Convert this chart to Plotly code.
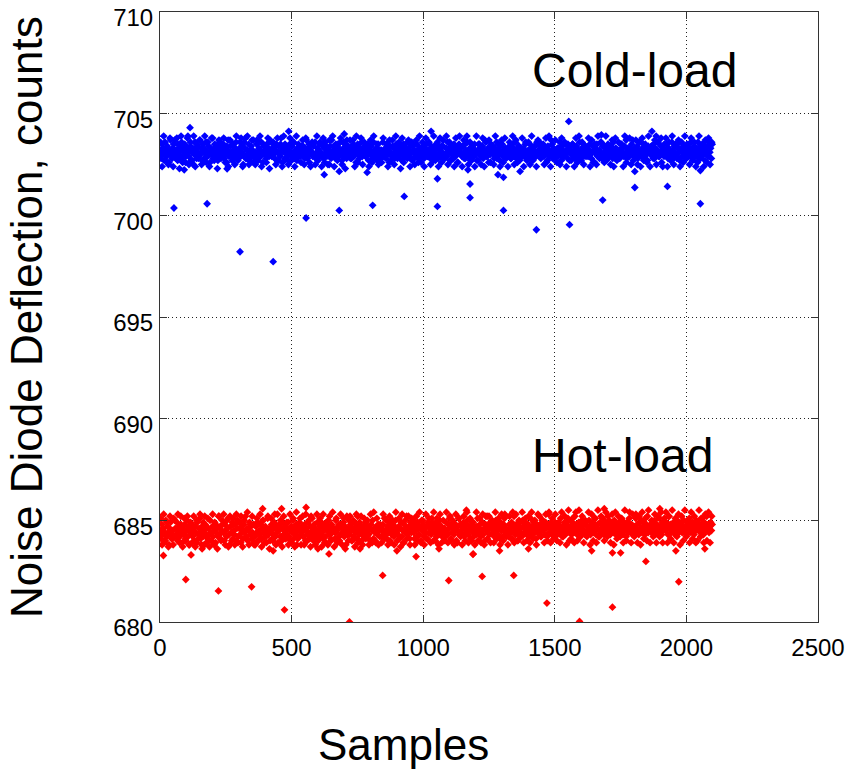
import plotly.graph_objects as go

# ---------------- data ----------------
samples = list(range(1, 2101, 3))   # sample index of the dense band (set 1)
samples2 = list(range(2, 2101, 6))  # sample index of the dense band (set 2)

cold_band = [
703.2,702.8,703.5,703.0,703.3,702.7,703.6,703.1,702.9,703.4,703.2,702.6,703.0,703.7,703.1,702.8,703.3,703.5,702.9,703.2,
703.0,703.8,702.7,703.3,703.1,702.9,703.4,703.6,702.8,703.2,703.0,703.5,702.6,703.1,703.3,703.9,702.9,703.2,703.4,702.7,
703.1,703.3,702.5,703.0,703.6,703.2,702.8,703.4,703.1,702.9,703.7,703.0,703.3,702.7,703.5,703.1,702.8,703.2,703.6,703.0,
702.9,703.4,703.1,702.6,703.3,703.8,703.0,702.8,703.2,703.5,702.9,703.1,703.4,702.7,703.2,703.6,703.0,702.8,703.3,703.1,
703.5,702.8,703.0,703.3,702.6,703.2,703.7,702.9,703.1,703.4,703.0,702.7,703.5,703.2,702.9,703.3,703.6,703.1,702.8,703.0,
703.2,703.6,702.9,703.1,703.4,702.5,703.0,703.3,703.8,702.8,703.2,703.0,703.5,702.7,703.1,703.4,702.9,703.2,703.7,703.0,
702.8,703.1,703.5,703.0,702.7,703.3,703.2,702.9,703.6,703.1,702.6,703.4,703.0,703.2,702.8,703.5,703.1,703.3,702.9,703.7,
703.1,702.9,703.3,703.6,703.0,702.8,703.2,703.5,702.7,703.1,703.4,703.0,702.9,703.8,703.2,702.6,703.3,703.1,703.5,702.8,
703.3,703.0,702.7,703.2,703.5,703.1,702.9,703.4,703.0,703.6,702.8,703.2,703.1,702.7,703.3,703.5,703.0,702.9,703.2,703.4,
703.0,703.4,703.2,702.8,703.1,703.7,702.9,703.3,703.0,702.6,703.2,703.5,703.1,702.9,703.4,703.0,703.6,702.8,703.1,703.3,
702.7,703.2,703.5,703.1,702.9,703.0,703.4,702.8,703.3,703.6,703.1,702.9,703.2,703.0,702.5,703.4,703.1,703.7,702.9,703.2,
703.4,703.1,702.8,703.3,703.0,703.5,702.9,703.2,703.6,703.0,702.7,703.1,703.3,702.9,703.5,703.2,702.8,703.0,703.4,703.1,
703.1,702.8,703.3,703.0,703.7,702.9,703.2,703.4,702.6,703.1,703.5,703.0,702.8,703.3,703.1,703.6,702.9,703.2,703.0,703.4,
702.9,703.3,703.1,703.5,702.7,703.2,703.0,703.4,703.1,702.8,703.6,703.2,702.9,703.1,703.3,702.7,703.5,703.0,703.2,702.8,
703.2,703.0,703.6,702.9,703.1,703.3,702.8,703.5,703.0,703.2,702.6,703.4,703.1,702.9,703.7,703.0,703.3,702.8,703.1,703.5,
703.0,703.3,702.9,703.1,703.4,703.0,702.7,703.2,703.5,702.9,703.1,703.3,703.0,702.8,703.6,703.2,702.9,703.4,703.1,702.7,
703.4,702.8,703.2,703.0,702.9,703.5,703.1,702.6,703.3,703.2,702.9,703.0,703.6,703.1,702.8,703.3,703.0,703.5,702.9,703.2,
703.1,703.5,702.8,703.3,703.0,703.2,702.7,703.4,703.1,702.9,703.3,703.6,702.8,703.0,703.2,702.9,703.4,703.1,703.7,702.8,
702.8,703.0,703.3,702.9,703.6,703.1,703.2,702.7,703.4,703.0,703.1,702.8,703.5,703.2,702.9,703.0,703.3,702.6,703.1,703.4,
703.3,703.1,702.9,703.4,703.0,702.8,703.5,703.2,703.0,703.6,702.9,703.1,703.3,702.7,703.2,703.4,703.0,702.9,703.5,703.1,
703.0,702.7,703.2,703.5,703.1,703.3,702.9,703.0,703.4,702.8,703.2,703.7,703.0,702.9,703.1,703.3,702.6,703.2,703.0,703.5,
703.2,703.4,703.0,702.8,703.3,703.1,703.6,702.9,703.2,703.0,702.7,703.4,703.1,703.5,702.9,703.2,703.0,703.3,702.8,703.1,
702.9,703.1,703.4,703.2,702.8,703.0,703.5,703.3,702.9,703.1,703.6,702.8,703.2,703.0,703.4,702.7,703.1,703.3,703.0,702.9,
703.3,702.9,703.1,703.6,703.0,702.8,703.2,703.1,703.5,702.9,703.0,703.3,702.7,703.2,703.4,703.0,702.9,703.6,703.1,703.2,
703.1,703.4,702.8,703.0,703.2,703.5,702.9,703.1,703.3,702.6,703.0,703.4,703.2,702.9,703.1,703.7,703.0,702.8,703.3,703.0,
702.8,703.2,703.0,703.3,702.9,703.1,703.6,703.0,702.7,703.4,703.2,703.1,702.9,703.5,703.0,703.2,702.8,703.3,703.1,703.4,
703.2,703.0,703.5,702.9,703.1,702.8,703.3,703.4,703.0,703.2,702.9,703.6,703.1,702.7,703.3,703.0,703.5,703.1,702.9,703.2,
703.0,703.3,702.9,703.2,703.5,703.0,702.8,703.1,703.4,703.2,702.6,703.3,703.0,703.5,702.9,703.1,703.2,703.0,703.6,702.8,
703.4,702.9,703.1,703.0,703.3,702.7,703.2,703.5,703.1,702.9,703.0,703.4,703.2,702.8,703.6,703.1,703.0,703.3,702.9,703.2,
703.1,703.2,702.8,703.5,703.0,703.3,703.1,702.9,703.4,703.0,703.7,702.8,703.2,703.1,702.9,703.3,703.0,703.5,703.2,702.7,
702.9,703.3,703.1,703.0,703.4,702.8,703.2,703.6,703.0,703.1,702.9,703.3,703.5,702.8,703.1,703.2,703.0,702.7,703.4,703.1,
703.2,703.0,703.4,702.9,703.1,703.5,702.8,703.3,703.0,703.2,703.6,702.9,703.1,703.0,703.4,702.6,703.2,703.3,702.9,703.1,
703.0,703.5,703.2,702.8,703.3,703.1,703.0,702.9,703.6,703.2,702.8,703.4,703.1,703.0,702.9,703.5,703.3,703.1,702.7,703.2,
703.3,702.9,703.1,703.4,703.0,703.2,702.8,703.5,703.1,702.9,703.3,703.0,703.6,703.2,702.8,703.1,703.4,703.0,702.9,703.3,
703.1,703.6,702.8,703.2,703.4,703.0,702.9,703.3,703.5,703.1,702.7,703.2,703.0,703.4,702.9,703.6,703.1,703.3,702.8,703.5,
]

cold_band2 = [
703.6,702.4,703.9,702.7,703.3,702.5,703.8,703.0,702.4,703.7,702.8,703.5,702.3,703.9,702.6,703.4,702.9,703.8,702.5,703.6,
702.7,703.9,702.4,703.5,702.8,703.7,702.5,703.3,703.9,702.6,703.6,702.4,703.0,703.8,702.7,703.4,702.3,703.7,702.9,703.5,
703.8,702.6,703.4,702.4,703.7,702.9,703.5,702.5,703.9,702.7,703.3,703.8,702.4,703.6,702.8,703.9,702.5,703.2,703.7,702.6,
702.5,703.7,702.8,703.9,702.4,703.5,703.0,702.6,703.8,702.3,703.6,702.9,703.4,702.5,703.8,702.7,703.5,702.4,703.9,702.8,
703.4,702.5,703.8,702.7,703.6,702.4,703.9,702.9,703.3,702.6,703.7,702.5,703.8,702.8,703.5,702.4,703.6,703.0,702.5,703.9,
702.9,703.6,702.4,703.8,702.6,703.4,702.5,703.7,702.8,703.9,702.4,703.5,702.7,703.3,703.8,702.5,703.6,702.3,703.7,702.9,
703.7,702.8,703.5,702.4,703.9,702.6,703.3,703.8,702.5,703.6,702.9,703.4,702.4,703.7,702.6,703.9,702.8,703.5,702.5,703.2,
702.6,703.8,702.9,703.5,702.4,703.7,702.7,703.4,702.5,703.9,702.8,703.6,702.3,703.8,702.6,703.5,702.9,703.7,702.4,703.6,
703.5,702.5,703.7,702.8,703.9,702.6,703.4,702.4,703.8,702.9,703.6,702.5,703.3,703.9,702.7,703.5,702.4,703.8,702.6,703.4,
702.8,703.9,702.5,703.6,702.7,703.4,702.4,703.8,702.6,703.5,703.0,702.4,703.7,702.8,703.9,702.5,703.6,702.7,703.3,702.4,
703.9,702.7,703.5,702.5,703.8,702.4,703.6,702.9,703.7,702.6,703.4,702.5,703.9,702.8,703.5,702.4,703.7,702.6,703.8,702.9,
702.4,703.6,702.8,703.9,702.5,703.7,702.6,703.4,702.9,703.8,702.4,703.5,702.7,703.6,702.5,703.9,702.8,703.4,702.4,703.7,
703.6,702.9,703.4,702.5,703.8,702.7,703.9,702.4,703.5,702.8,703.7,702.6,703.3,702.5,703.8,702.9,703.6,702.4,703.5,702.7,
702.7,703.5,702.4,703.8,702.6,703.9,702.8,703.6,702.5,703.4,702.9,703.8,702.4,703.7,702.6,703.5,702.5,703.9,702.8,703.6,
703.5,702.6,703.9,702.8,703.4,702.5,703.7,702.4,703.8,702.7,703.6,702.9,703.5,702.4,703.9,702.6,703.3,703.8,702.5,703.7,
702.9,703.7,702.5,703.6,702.4,703.8,702.7,703.5,702.6,703.9,702.4,703.4,702.8,703.7,702.5,703.6,702.9,703.8,702.4,703.5,
703.8,702.4,703.6,702.7,703.9,702.5,703.5,702.8,703.7,702.4,703.6,702.6,703.9,702.8,703.4,702.5,703.8,702.7,703.6,702.4,
702.6,703.9,702.8,703.5,702.4,703.7,702.6,703.8,702.5,703.6,
]

hot_band = [
684.5,684.1,684.8,684.3,684.6,683.9,684.4,685.0,684.2,684.7,684.4,683.8,684.6,684.9,684.3,684.1,684.5,685.1,684.2,684.6,
684.3,684.9,684.0,684.5,684.7,684.2,685.2,684.4,683.9,684.6,684.3,684.8,684.1,684.5,685.0,684.2,684.7,683.8,684.4,684.6,
684.8,684.2,684.5,684.0,684.7,684.4,683.9,684.9,684.3,684.6,685.1,684.1,684.4,684.7,684.2,684.5,683.8,684.8,684.3,684.6,
684.1,684.6,684.3,685.0,684.4,684.0,684.7,684.2,684.5,684.9,683.9,684.4,684.6,684.2,685.2,684.3,684.7,684.0,684.5,684.8,
684.4,684.0,684.8,684.5,684.2,684.6,685.1,684.3,683.8,684.7,684.4,684.9,684.1,684.5,684.3,684.8,684.0,684.6,685.0,684.2,
684.6,684.3,683.9,684.7,684.5,684.1,684.8,684.4,685.2,684.2,684.6,684.0,684.5,684.9,684.3,684.7,684.1,684.4,684.8,683.8,
684.2,684.7,684.4,684.9,684.0,684.5,684.3,684.8,684.1,684.6,685.0,684.4,683.9,684.7,684.2,684.5,685.1,684.3,684.6,684.0,
684.5,684.8,684.1,684.3,684.6,685.3,684.2,684.7,684.4,683.9,684.5,684.8,684.2,684.6,684.0,684.9,684.3,684.5,684.7,684.1,
684.3,684.6,684.9,684.2,684.5,684.0,684.7,684.4,685.0,684.1,684.6,684.3,684.8,683.8,684.5,684.7,684.2,685.1,684.4,684.6,
684.7,684.2,684.5,684.8,684.0,684.6,684.3,684.9,684.4,684.1,684.7,685.2,684.3,684.5,684.0,684.8,684.6,684.2,684.4,684.9,
684.0,684.5,684.7,684.3,684.9,684.4,684.1,684.6,684.8,684.2,683.9,684.5,684.7,685.0,684.3,684.6,684.1,684.8,684.4,684.5,
684.6,684.1,684.4,685.1,684.5,684.7,684.2,684.0,684.8,684.3,684.6,684.4,684.9,684.2,684.7,683.8,684.5,684.3,684.6,685.0,
684.3,684.8,684.5,684.0,684.6,684.2,684.9,684.4,684.7,684.1,685.2,684.5,684.3,684.8,684.6,684.0,684.4,684.7,684.2,684.5,
684.9,684.4,684.2,684.7,684.3,684.6,684.0,684.8,684.5,685.0,684.1,684.6,684.4,683.9,684.7,684.3,684.8,684.5,684.2,684.6,
684.2,684.6,684.8,684.4,685.1,684.3,684.5,684.1,684.7,684.4,684.9,684.0,684.6,684.3,684.8,684.5,684.2,684.7,685.0,684.4,
684.5,684.3,684.7,684.1,684.6,684.9,684.2,684.5,683.9,684.8,684.4,684.6,685.2,684.3,684.5,684.7,684.1,684.9,684.4,684.6,
684.7,684.4,684.1,684.8,684.5,684.2,684.9,684.6,684.3,684.7,684.0,685.0,684.5,684.8,684.2,684.6,684.4,684.1,684.7,684.9,
684.4,684.8,684.6,684.3,685.1,684.5,684.0,684.7,684.4,684.9,684.2,684.6,684.8,684.3,685.0,684.5,684.7,684.2,684.6,684.4,
684.6,684.2,684.9,684.5,684.3,684.8,684.6,685.2,684.1,684.7,684.4,684.9,684.3,684.6,684.8,684.0,684.5,684.7,685.1,684.3,
684.8,684.5,684.3,684.7,684.9,684.2,684.6,684.4,684.8,685.0,684.3,684.5,684.7,684.1,684.6,684.9,684.4,684.2,684.7,684.5,
684.3,684.7,685.1,684.4,684.6,684.8,684.2,684.5,684.9,684.3,684.6,684.0,684.8,684.5,685.2,684.4,684.7,684.3,684.9,684.6,
684.6,684.9,684.4,684.2,684.7,685.0,684.5,684.8,684.3,684.6,684.1,684.9,684.5,684.7,684.2,684.8,685.1,684.4,684.6,684.3,
684.5,684.2,684.8,684.6,684.4,684.9,684.1,684.7,685.2,684.5,684.3,684.8,684.6,684.0,684.7,684.4,684.9,684.6,684.2,685.0,
684.7,684.4,684.6,684.9,684.3,684.5,684.8,684.2,684.6,685.1,684.4,684.7,684.3,684.9,684.5,684.6,684.1,684.8,684.4,684.7,
684.4,684.8,684.2,684.6,685.0,684.5,684.7,684.3,684.9,684.6,684.2,684.8,685.3,684.4,684.6,684.9,684.3,684.7,684.5,684.2,
684.9,684.5,684.7,684.3,684.6,684.8,684.4,685.1,684.6,684.2,684.7,684.5,684.9,684.3,684.8,684.6,684.4,685.0,684.5,684.7,
684.6,684.3,684.9,684.7,684.4,685.2,684.6,684.8,684.3,684.5,684.9,684.2,684.7,684.6,685.0,684.4,684.8,684.5,684.3,684.9,
684.4,684.7,684.5,685.0,684.6,684.3,684.8,684.5,684.9,684.4,684.7,685.1,684.3,684.6,684.8,684.2,684.5,684.9,684.6,684.4,
684.8,684.5,684.3,684.7,684.9,684.6,684.4,685.2,684.5,684.8,684.3,684.6,684.9,684.7,684.4,685.0,684.6,684.3,684.8,684.5,
684.5,684.9,684.7,684.4,684.6,685.0,684.3,684.8,684.5,684.7,684.2,684.9,684.6,684.4,685.1,684.7,684.5,684.8,684.3,684.6,
684.7,684.4,685.1,684.6,684.8,684.5,684.3,684.9,684.6,685.0,684.4,684.7,684.5,684.9,684.3,684.8,684.6,685.2,684.4,684.7,
684.6,684.8,684.4,684.9,684.5,684.7,685.0,684.3,684.6,684.8,684.5,684.4,685.1,684.7,684.6,684.3,684.9,684.5,684.8,684.6,
684.5,684.9,684.7,684.3,685.2,684.6,684.8,684.4,684.7,684.5,684.9,684.6,684.3,684.8,685.0,684.5,684.7,684.4,684.9,684.6,
684.8,684.4,684.6,685.0,684.5,684.7,684.3,684.9,684.6,684.8,685.1,684.4,684.7,684.5,684.9,684.6,684.3,684.8,684.5,685.0,
684.6,684.9,684.5,684.7,684.4,685.1,684.8,684.6,684.3,684.9,684.7,684.5,685.2,684.6,684.8,684.4,684.7,684.9,684.5,684.8,
]

hot_band2 = [
685.1,683.8,685.3,684.0,684.9,683.7,685.2,684.1,683.8,685.0,684.2,685.3,683.9,684.8,683.7,685.1,684.0,685.2,683.8,684.9,
683.9,685.2,683.7,685.0,684.1,685.3,683.8,684.9,685.2,683.9,685.1,683.7,684.0,685.3,683.8,684.8,683.6,685.2,684.1,685.0,
685.3,683.8,685.0,683.7,685.2,684.0,685.1,683.8,685.3,683.9,684.9,685.2,683.7,685.0,684.1,685.4,683.8,684.8,685.2,683.9,
683.8,685.1,684.0,685.3,683.7,685.0,684.2,683.9,685.2,683.6,685.1,684.0,684.9,683.8,685.3,683.9,685.0,683.7,685.2,684.1,
684.9,683.8,685.3,683.9,685.1,683.7,685.4,684.1,684.9,683.8,685.2,683.8,685.3,684.0,685.0,683.7,685.1,684.2,683.8,685.3,
684.1,685.1,683.7,685.3,683.9,684.9,683.8,685.2,684.0,685.4,683.7,685.0,683.9,684.8,685.3,683.8,685.1,683.6,685.2,684.0,
685.2,684.0,685.0,683.7,685.3,683.9,684.9,685.2,683.8,685.1,684.1,685.0,683.8,685.3,683.9,685.4,684.0,685.1,683.8,684.8,
683.9,685.3,684.1,685.0,683.8,685.2,683.9,685.0,683.8,685.4,684.0,685.1,683.7,685.3,683.9,685.0,684.1,685.2,683.8,685.1,
685.0,683.8,685.2,684.0,685.4,683.9,685.0,683.8,685.3,684.1,685.1,683.9,684.9,685.4,684.0,685.1,683.8,685.3,683.9,685.0,
684.0,685.4,683.9,685.1,684.0,685.0,683.8,685.3,683.9,685.1,684.2,683.8,685.2,684.0,685.4,683.9,685.1,684.0,684.9,683.8,
685.4,684.0,685.1,683.9,685.3,683.8,685.2,684.1,685.2,683.9,685.0,683.9,685.4,684.1,685.1,683.8,685.3,684.0,685.3,684.2,
683.8,685.2,684.1,685.4,683.9,685.3,684.0,685.0,684.2,685.4,683.9,685.1,684.0,685.2,683.9,685.4,684.1,685.0,683.8,685.3,
685.2,684.2,685.0,683.9,685.3,684.0,685.4,683.9,685.1,684.1,685.3,684.0,684.9,683.9,685.4,684.2,685.2,683.8,685.1,684.0,
684.1,685.1,683.9,685.4,684.0,685.5,684.2,685.2,683.9,685.0,684.2,685.4,683.8,685.3,684.0,685.1,683.9,685.5,684.2,685.2,
685.1,684.0,685.4,684.2,685.0,683.9,685.3,683.8,685.4,684.1,685.2,684.2,685.1,683.9,685.5,684.0,684.9,685.4,683.9,685.3,
684.2,685.3,683.9,685.2,683.8,685.4,684.1,685.1,684.0,685.5,683.9,685.0,684.2,685.3,683.9,685.2,684.2,685.4,683.9,685.1,
685.4,683.9,685.2,684.1,685.5,683.9,685.1,684.2,685.3,683.8,685.2,684.0,685.5,684.2,685.0,683.9,685.4,684.1,685.2,683.9,
684.0,685.5,684.2,685.1,683.9,685.3,684.0,685.4,683.9,685.2,
]

# isolated points (sample, value)
cold_out_x = [53, 179, 555, 681, 808, 928, 1054, 1054, 1178, 1178, 624, 92, 255, 681, 787,
              1170, 114, 489, 1030, 700, 304, 430, 1553, 1869, 1305, 1430, 1556, 1682, 1804,
              1928, 2053, 1804, 1368, 1305, 1284, 2053, 1677, 1885, 1138]
cold_out_y = [700.36, 700.57, 699.87, 700.24, 700.49, 700.93, 700.44, 701.80, 700.87, 701.54,
              702.00, 702.24, 702.29, 702.16, 702.11, 702.24, 704.31, 704.13, 704.13, 704.00,
              698.21, 697.72, 704.62, 704.13, 700.24, 699.29, 699.54, 700.75, 701.37, 701.42,
              700.57, 702.16, 702.16, 701.87, 702.00, 702.20, 703.96, 703.90, 703.90]

hot_out_x = [13, 98, 222, 348, 473, 720, 846, 1097, 1224, 973, 1190, 642, 118, 555, 390, 462,
             1164, 1344, 1470, 1594, 1719, 1846, 1971, 1189, 1719, 1899, 1688, 1552,
             160, 430, 600, 760, 900, 1060, 1290, 1400, 1640, 1750, 1960, 2070]
hot_out_y = [683.27, 682.09, 681.53, 681.73, 680.60, 680.00, 682.29, 682.04, 682.24, 683.22,
             683.35, 683.35, 683.30, 685.63, 685.57, 685.57, 685.50, 682.29, 680.93, 680.03,
             680.73, 682.98, 681.98, 683.33, 683.40, 685.57, 685.57, 685.50,
             683.6, 683.5, 683.6, 683.6, 683.5, 683.6, 683.5, 683.6, 683.5, 683.4, 683.5, 683.6]

x_ticks = [0, 500, 1000, 1500, 2000, 2500]
y_ticks = [680, 685, 690, 695, 700, 705, 710]

# ---------------- figure ----------------
FONT = "Liberation Sans, Arial, sans-serif"

fig = go.Figure()
fig.add_trace(go.Scatter(
    x=samples + samples2 + cold_out_x, y=cold_band + cold_band2 + cold_out_y, mode="markers",
    marker=dict(symbol="diamond", size=6, color="#0000ff", line=dict(width=0)),
    name="Cold-load", showlegend=False))
fig.add_trace(go.Scatter(
    x=samples + samples2 + hot_out_x, y=hot_band + hot_band2 + hot_out_y, mode="markers",
    marker=dict(symbol="diamond", size=6, color="#ff0000", line=dict(width=0)),
    name="Hot-load", showlegend=False))

axis_common = dict(
    showline=True, linecolor="#333333", linewidth=1, mirror="ticks",
    ticks="inside", ticklen=7, tickcolor="#333333",
    showgrid=True, gridcolor="#222222", griddash="1px,3px", gridwidth=1,
    zeroline=False, tickfont=dict(family=FONT, size=24, color="black"),
    ticklabeloverflow="allow", automargin=False,
)

fig.update_xaxes(range=[0, 2500], tickvals=x_ticks, ticklabelstandoff=4, **axis_common)
fig.update_yaxes(range=[680, 710], tickvals=y_ticks, ticklabelstandoff=1,
                 ticklabelshift=6, **axis_common)

fig.add_annotation(text="Cold-load", x=1804, y=707.1, xref="x", yref="y",
                   showarrow=False, font=dict(family=FONT, size=48, color="black"),
                   xanchor="center", yanchor="middle")
fig.add_annotation(text="Hot-load", x=1757, y=688.2, xref="x", yref="y",
                   showarrow=False, font=dict(family=FONT, size=48, color="black"),
                   xanchor="center", yanchor="middle")
fig.add_annotation(text="Samples", x=(403 - 160) / 658, y=-0.2, xref="paper", yref="paper",
                   showarrow=False, font=dict(family=FONT, size=44, color="black"),
                   xanchor="center", yanchor="middle")
fig.add_annotation(text="Noise Diode Deflection, counts", x=(26 - 160) / 658, y=0.5,
                   xref="paper", yref="paper", textangle=-90,
                   showarrow=False, font=dict(family=FONT, size=44, color="black"),
                   xanchor="center", yanchor="middle")

fig.update_layout(
    width=846, height=770,
    margin=dict(l=160, r=28, t=12, b=148, autoexpand=False),
    plot_bgcolor="white", paper_bgcolor="white",
    font=dict(family=FONT, color="black"),
)

fig.write_html("out.html")
